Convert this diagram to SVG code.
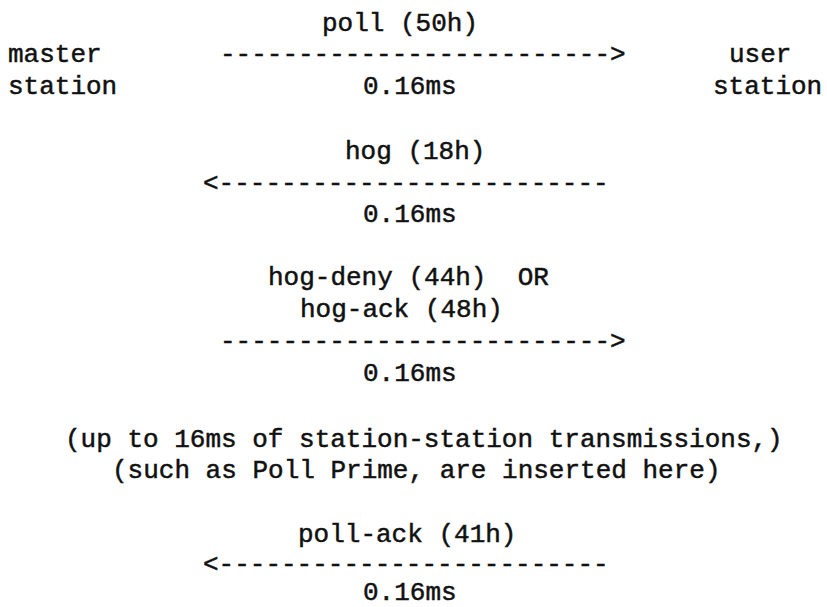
<svg xmlns="http://www.w3.org/2000/svg" width="827" height="607" viewBox="0 0 827 607">
<style>
text{font-family:"Liberation Mono","Courier New",monospace;font-size:26px;fill:#111;stroke:#111;stroke-width:0.5px;white-space:pre}
</style>
<rect width="827" height="607" fill="#fff"/>
<g id="master">
<text x="8" y="62">master</text>
<text x="8" y="94">station</text>
</g>
<g id="user">
<text x="729" y="62">user</text>
<text x="713" y="94">station</text>
</g>
<g id="msg-poll">
<text x="322" y="31">poll (50h)</text>
<text x="363" y="94">0.16ms</text>
</g>
<g id="msg-hog">
<text x="345" y="159">hog (18h)</text>
<text x="363" y="222">0.16ms</text>
</g>
<g id="msg-hog-reply">
<text x="268" y="285" xml:space="preserve">hog-deny (44h)  OR</text>
<text x="300" y="317">hog-ack (48h)</text>
<text x="363" y="381">0.16ms</text>
</g>
<g id="note">
<text x="65" y="447">(up to 16ms of station-station transmissions,)</text>
<text x="112" y="478">(such as Poll Prime, are inserted here)</text>
</g>
<g id="msg-poll-ack">
<text x="298" y="542">poll-ack (41h)</text>
<text x="363" y="600">0.16ms</text>
</g>
<g id="connectors">
<text x="220" y="62">-------------------------&gt;</text>
<text x="203" y="191">&lt;-------------------------</text>
<text x="220" y="349">-------------------------&gt;</text>
<text x="203" y="572">&lt;-------------------------</text>
</g>
</svg>
